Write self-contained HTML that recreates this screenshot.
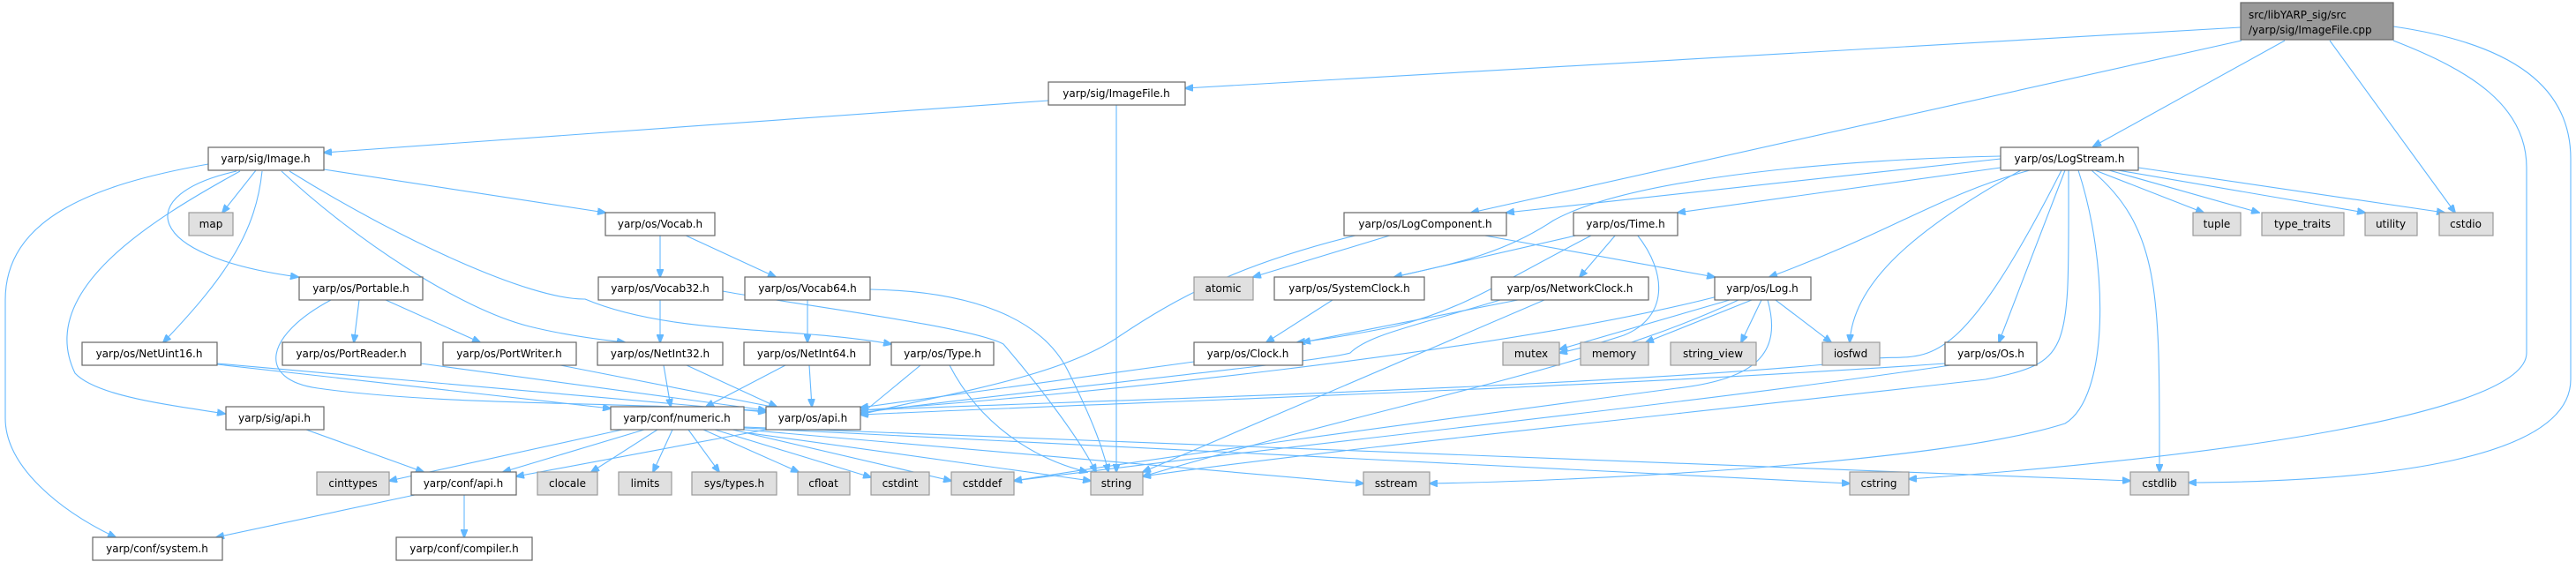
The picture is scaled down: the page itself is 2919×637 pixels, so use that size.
<!DOCTYPE html>
<html><head><meta charset="utf-8"><style>
html,body{margin:0;padding:0;background:#fff;}
svg{display:block;}
text{font-family:"DejaVu Sans","Liberation Sans",sans-serif;font-size:12px;fill:#000;}
.e{fill:none;stroke:#63b8ff;stroke-width:1.1;marker-end:url(#a);}
.n{fill:#fff;stroke:#666;stroke-width:1.2;}
.g{fill:#e0e0e0;stroke:#999;stroke-width:1.2;}
</style></head><body>
<svg width="2919" height="637" viewBox="0 0 2919 637" xmlns="http://www.w3.org/2000/svg">
<defs><marker id="a" markerWidth="10" markerHeight="8" refX="9" refY="4" orient="auto" markerUnits="userSpaceOnUse"><path d="M0,0 L10,4 L0,8 z" fill="#63b8ff" stroke="#63b8ff"/></marker></defs>
<g>
<path class="e" d="M2539,31 L1343,100"/>
<path class="e" d="M2540,46 L1667,241"/>
<path class="e" d="M2589,46 L2372,166"/>
<path class="e" d="M2640,46 L2782,241"/>
<path class="e" d="M2712,46 C2800,80 2863,120 2863,190 L2863,400 C2863,470 2500,520 2163,543"/>
<path class="e" d="M2712,30 C2850,50 2913,100 2913,180 L2913,430 C2913,520 2700,546 2480,547"/>
<path class="e" d="M1188,114 L367,173"/>
<path class="e" d="M1265,119 L1265,535"/>
<path class="e" d="M236,186 C100,210 6,250 6,340 L6,474 C6,530 70,580 131,609"/>
<path class="e" d="M290,193 L252,241"/>
<path class="e" d="M268,194 C150,220 160,290 338,314"/>
<path class="e" d="M272,194 C170,250 40,330 85,423 C110,450 200,460 255,469"/>
<path class="e" d="M297,194 C290,260 260,310 185,388"/>
<path class="e" d="M319,194 C400,270 520,350 600,370 C640,380 680,385 708,388"/>
<path class="e" d="M328,194 C450,270 600,340 663,339 C760,380 900,370 1010,390"/>
<path class="e" d="M367,192 L686,241"/>
<path class="e" d="M748,266 L748,314"/>
<path class="e" d="M775,266 L879,314"/>
<path class="e" d="M748,340 L748,388"/>
<path class="e" d="M819,330 C900,345 1100,370 1137,390 C1180,440 1225,500 1242,535"/>
<path class="e" d="M915,340 L915,388"/>
<path class="e" d="M986,328 C1100,330 1180,360 1210,420 C1240,480 1250,510 1256,535"/>
<path class="e" d="M407,340 L401,388"/>
<path class="e" d="M437,340 L544,388"/>
<path class="e" d="M375,340 C300,380 290,430 360,440 C500,460 700,455 868,466"/>
<path class="e" d="M477,412 L868,465"/>
<path class="e" d="M635,414 L880,462"/>
<path class="e" d="M246,412 L868,467"/>
<path class="e" d="M246,413 L692,463"/>
<path class="e" d="M752,414 L760,461"/>
<path class="e" d="M778,414 L880,461"/>
<path class="e" d="M890,414 L800,461"/>
<path class="e" d="M917,414 L920,461"/>
<path class="e" d="M1043,414 L975,470"/>
<path class="e" d="M1076,414 C1110,480 1170,520 1232,535"/>
<path class="e" d="M347,487 L480,535"/>
<path class="e" d="M730,487 L570,535"/>
<path class="e" d="M705,487 L441,545"/>
<path class="e" d="M745,487 L670,535"/>
<path class="e" d="M762,487 L740,535"/>
<path class="e" d="M780,487 L815,535"/>
<path class="e" d="M797,487 L905,535"/>
<path class="e" d="M810,487 L987,541"/>
<path class="e" d="M830,487 L1078,545"/>
<path class="e" d="M843,490 L1236,545"/>
<path class="e" d="M843,487 L1545,548"/>
<path class="e" d="M843,485 L2096,548"/>
<path class="e" d="M843,484 L2414,545"/>
<path class="e" d="M868,487 L585,540"/>
<path class="e" d="M470,561 L245,609"/>
<path class="e" d="M526,561 L526,609"/>
<path class="e" d="M1578,266 L1420,314"/>
<path class="e" d="M1540,266 C1400,300 1330,340 1270,380 C1200,430 1050,450 975,470"/>
<path class="e" d="M1677,266 L1943,314"/>
<path class="e" d="M1790,266 L1580,314"/>
<path class="e" d="M1831,266 L1790,314"/>
<path class="e" d="M1805,266 C1700,320 1660,350 1580,370 C1530,380 1500,385 1470,388"/>
<path class="e" d="M1855,266 C1890,310 1890,360 1840,380 C1810,390 1790,395 1767,400"/>
<path class="e" d="M1510,340 L1435,388"/>
<path class="e" d="M1720,340 L1476,388"/>
<path class="e" d="M1700,340 C1600,370 1550,380 1530,400 C1500,410 1100,450 975,468"/>
<path class="e" d="M1750,340 L1295,535"/>
<path class="e" d="M1353,410 L975,462"/>
<path class="e" d="M1950,335 C1700,400 1200,450 975,465"/>
<path class="e" d="M1960,340 L1767,396"/>
<path class="e" d="M1985,340 L1865,388"/>
<path class="e" d="M1996,340 L1973,388"/>
<path class="e" d="M2012,340 L2075,388"/>
<path class="e" d="M1970,340 C1800,420 1600,450 1295,540"/>
<path class="e" d="M2003,340 C2020,400 1990,430 1900,440 C1600,480 1300,520 1149,545"/>
<path class="e" d="M2204,412 C1800,440 1300,455 975,470"/>
<path class="e" d="M2210,414 C1900,460 1500,500 1149,545"/>
<path class="e" d="M2267,180 L1707,241"/>
<path class="e" d="M2267,177 C2100,180 1850,200 1760,250 C1700,290 1640,300 1580,314"/>
<path class="e" d="M2267,190 L1901,241"/>
<path class="e" d="M2300,193 C2200,220 2150,260 2005,314"/>
<path class="e" d="M2290,193 C2170,260 2100,320 2096,388"/>
<path class="e" d="M2340,193 L2265,388"/>
<path class="e" d="M2336,193 C2200,460 2180,390 2100,410 C1800,440 1200,455 975,465"/>
<path class="e" d="M2344,193 C2344,400 2350,410 2250,430 C1900,470 1500,510 1295,540"/>
<path class="e" d="M2355,193 C2390,300 2390,450 2340,480 C2200,525 1800,545 1620,548"/>
<path class="e" d="M2370,193 C2450,260 2447,340 2447,535"/>
<path class="e" d="M2374,193 L2497,241"/>
<path class="e" d="M2390,193 L2560,241"/>
<path class="e" d="M2400,193 L2680,241"/>
<path class="e" d="M2423,190 L2770,241"/>
</g>
<g>
<rect class="n" x="2539" y="3" width="173" height="42" style="fill:#999"/>
<text x="2548" y="21">src/libYARP_sig/src</text><text x="2548" y="38">/yarp/sig/ImageFile.cpp</text>
<rect class="n" x="1188" y="93" width="155" height="26"/><text x="1265" y="110" text-anchor="middle">yarp/sig/ImageFile.h</text>
<rect class="n" x="236" y="167" width="131" height="26"/><text x="301" y="184" text-anchor="middle">yarp/sig/Image.h</text>
<rect class="n" x="2267" y="167" width="156" height="26"/><text x="2345" y="184" text-anchor="middle">yarp/os/LogStream.h</text>
<rect class="g" x="214" y="241" width="50" height="26"/><text x="239" y="258" text-anchor="middle">map</text>
<rect class="n" x="686" y="241" width="124" height="26"/><text x="748" y="258" text-anchor="middle">yarp/os/Vocab.h</text>
<rect class="n" x="1523" y="241" width="184" height="26"/><text x="1615" y="258" text-anchor="middle">yarp/os/LogComponent.h</text>
<rect class="n" x="1783" y="241" width="118" height="26"/><text x="1842" y="258" text-anchor="middle">yarp/os/Time.h</text>
<rect class="g" x="2485" y="241" width="54" height="26"/><text x="2512" y="258" text-anchor="middle">tuple</text>
<rect class="g" x="2563" y="241" width="93" height="26"/><text x="2609" y="258" text-anchor="middle">type_traits</text>
<rect class="g" x="2680" y="241" width="59" height="26"/><text x="2709" y="258" text-anchor="middle">utility</text>
<rect class="g" x="2764" y="241" width="61" height="26"/><text x="2794" y="258" text-anchor="middle">cstdio</text>
<rect class="n" x="339" y="314" width="140" height="26"/><text x="409" y="331" text-anchor="middle">yarp/os/Portable.h</text>
<rect class="n" x="678" y="314" width="141" height="26"/><text x="748" y="331" text-anchor="middle">yarp/os/Vocab32.h</text>
<rect class="n" x="844" y="314" width="142" height="26"/><text x="915" y="331" text-anchor="middle">yarp/os/Vocab64.h</text>
<rect class="g" x="1353" y="314" width="67" height="26"/><text x="1386" y="331" text-anchor="middle">atomic</text>
<rect class="n" x="1444" y="314" width="170" height="26"/><text x="1529" y="331" text-anchor="middle">yarp/os/SystemClock.h</text>
<rect class="n" x="1690" y="314" width="178" height="26"/><text x="1779" y="331" text-anchor="middle">yarp/os/NetworkClock.h</text>
<rect class="n" x="1943" y="314" width="109" height="26"/><text x="1997" y="331" text-anchor="middle">yarp/os/Log.h</text>
<rect class="n" x="93" y="388" width="153" height="26"/><text x="169" y="405" text-anchor="middle">yarp/os/NetUint16.h</text>
<rect class="n" x="320" y="388" width="157" height="26"/><text x="398" y="405" text-anchor="middle">yarp/os/PortReader.h</text>
<rect class="n" x="502" y="388" width="151" height="26"/><text x="577" y="405" text-anchor="middle">yarp/os/PortWriter.h</text>
<rect class="n" x="677" y="388" width="142" height="26"/><text x="748" y="405" text-anchor="middle">yarp/os/NetInt32.h</text>
<rect class="n" x="843" y="388" width="143" height="26"/><text x="914" y="405" text-anchor="middle">yarp/os/NetInt64.h</text>
<rect class="n" x="1010" y="388" width="116" height="26"/><text x="1068" y="405" text-anchor="middle">yarp/os/Type.h</text>
<rect class="n" x="1353" y="388" width="123" height="26"/><text x="1414" y="405" text-anchor="middle">yarp/os/Clock.h</text>
<rect class="g" x="1703" y="388" width="64" height="26"/><text x="1735" y="405" text-anchor="middle">mutex</text>
<rect class="g" x="1791" y="388" width="77" height="26"/><text x="1829" y="405" text-anchor="middle">memory</text>
<rect class="g" x="1893" y="388" width="97" height="26"/><text x="1941" y="405" text-anchor="middle">string_view</text>
<rect class="g" x="2065" y="388" width="65" height="26"/><text x="2097" y="405" text-anchor="middle">iosfwd</text>
<rect class="n" x="2204" y="388" width="104" height="26"/><text x="2256" y="405" text-anchor="middle">yarp/os/Os.h</text>
<rect class="n" x="256" y="461" width="111" height="26"/><text x="311" y="478" text-anchor="middle">yarp/sig/api.h</text>
<rect class="n" x="692" y="461" width="151" height="26"/><text x="767" y="478" text-anchor="middle">yarp/conf/numeric.h</text>
<rect class="n" x="868" y="461" width="107" height="26"/><text x="921" y="478" text-anchor="middle">yarp/os/api.h</text>
<rect class="g" x="359" y="535" width="82" height="26"/><text x="400" y="552" text-anchor="middle">cinttypes</text>
<rect class="n" x="466" y="535" width="119" height="26"/><text x="525" y="552" text-anchor="middle">yarp/conf/api.h</text>
<rect class="g" x="609" y="535" width="68" height="26"/><text x="643" y="552" text-anchor="middle">clocale</text>
<rect class="g" x="701" y="535" width="60" height="26"/><text x="731" y="552" text-anchor="middle">limits</text>
<rect class="g" x="784" y="535" width="96" height="26"/><text x="832" y="552" text-anchor="middle">sys/types.h</text>
<rect class="g" x="904" y="535" width="59" height="26"/><text x="933" y="552" text-anchor="middle">cfloat</text>
<rect class="g" x="987" y="535" width="66" height="26"/><text x="1020" y="552" text-anchor="middle">cstdint</text>
<rect class="g" x="1078" y="535" width="71" height="26"/><text x="1113" y="552" text-anchor="middle">cstddef</text>
<rect class="g" x="1236" y="535" width="59" height="26"/><text x="1265" y="552" text-anchor="middle">string</text>
<rect class="g" x="1545" y="535" width="75" height="26"/><text x="1582" y="552" text-anchor="middle">sstream</text>
<rect class="g" x="2096" y="535" width="67" height="26"/><text x="2129" y="552" text-anchor="middle">cstring</text>
<rect class="g" x="2414" y="535" width="66" height="26"/><text x="2447" y="552" text-anchor="middle">cstdlib</text>
<rect class="n" x="105" y="609" width="147" height="26"/><text x="178" y="626" text-anchor="middle">yarp/conf/system.h</text>
<rect class="n" x="449" y="609" width="154" height="26"/><text x="526" y="626" text-anchor="middle">yarp/conf/compiler.h</text>
</g>
</svg>
</body></html>
